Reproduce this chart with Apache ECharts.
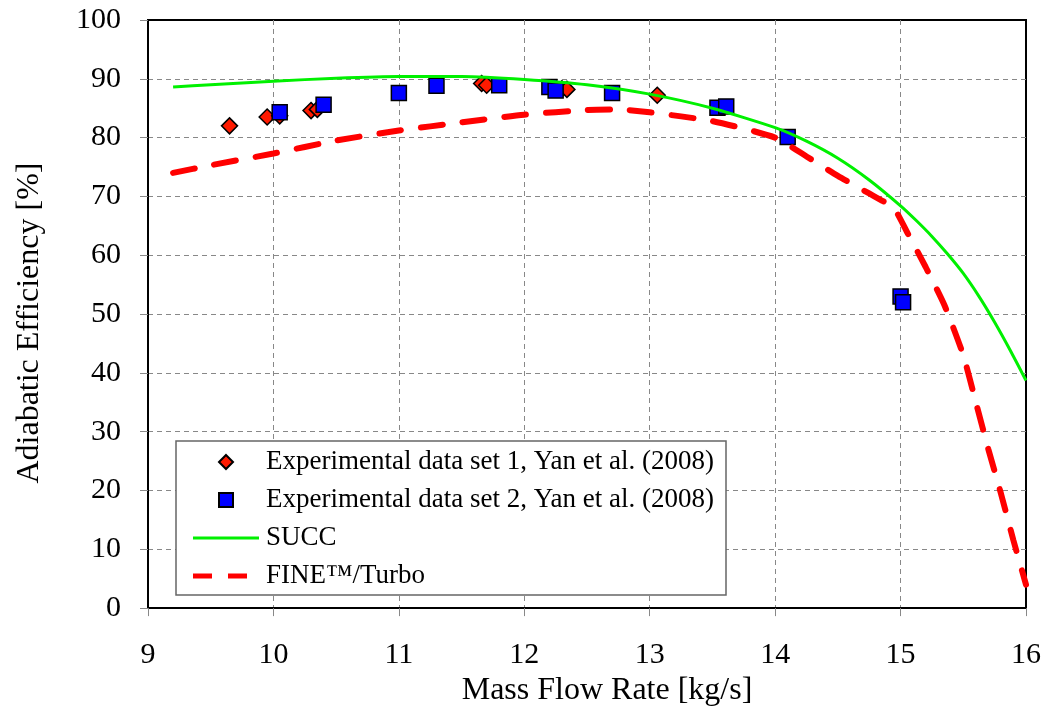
<!DOCTYPE html>
<html>
<head>
<meta charset="utf-8">
<script src="https://cdn.jsdelivr.net/npm/echarts@6/dist/echarts.min.js"></script>
<style>
  html, body { margin: 0; padding: 0; background: #fff; }
  #chart { width: 1047px; height: 712px; }
</style>
</head>
<body>
<div id="chart"></div>
<script>
// 实验数据 1（菱形）
var expSet1 = [
  [9.65, 82.0], [9.95, 83.5], [10.05, 83.7], [10.30, 84.6], [10.35, 84.8],
  [11.66, 89.2], [11.70, 88.9], [12.30, 88.3], [12.34, 88.2], [13.06, 87.2]
];
// 实验数据 2（方块）
var expSet2 = [
  [10.05, 84.3], [10.40, 85.6], [11.00, 87.6], [11.30, 88.8], [11.80, 88.9],
  [12.20, 88.6], [12.25, 88.0], [12.70, 87.6], [13.54, 85.1], [13.61, 85.3],
  [14.10, 80.1], [15.00, 53.0], [15.02, 52.0]
];
// SUCC 曲线
var succ = [
  [9.2, 88.6], [9.5, 89.0], [10, 89.6], [10.5, 90.1], [11, 90.4], [11.5, 90.4],
  [12, 89.9], [12.5, 89.0], [13, 87.4], [13.5, 85.0], [14, 81.7], [14.25, 79.4],
  [14.5, 76.5], [14.75, 72.8], [15, 68.4], [15.125, 65.9], [15.25, 63.2],
  [15.375, 60.2], [15.5, 56.9], [15.625, 53.0], [15.75, 48.6], [15.875, 43.8],
  [16, 38.7]
];
// FINE/Turbo 曲线
var fine = [
  [9.2, 74.0], [9.5, 75.3], [10, 77.3], [10.5, 79.5], [11, 81.2], [11.5, 82.6],
  [12, 83.9], [12.5, 84.7], [12.75, 84.8], [13, 84.3], [13.5, 82.8], [14, 80.0],
  [14.25, 76.8], [14.5, 73.5], [14.75, 70.5], [14.9, 68.7], [14.96, 67.6],
  [15.05, 64.0], [15.2, 58.0], [15.35, 51.5], [15.5, 43.0], [15.6, 35.0],
  [15.7, 27.0], [15.8, 19.5], [15.9, 11.5], [16, 4.0]
];
var seriesNames = [
  'Experimental data set 1, Yan et al. (2008)',
  'Experimental data set 2, Yan et al. (2008)',
  'SUCC',
  'FINE\u2122/Turbo'
];

var font = '"Liberation Serif", "Times New Roman", serif';
var legendText = { fontFamily: font, fontSize: 27, color: '#000', lineHeight: 30 };
var chart = echarts.init(document.getElementById('chart'));

var option = {
  animation: false,
  backgroundColor: '#fff',
  textStyle: { fontFamily: font, color: '#000' },
  grid: {
    left: 148, right: 21, top: 20, bottom: 101,
    show: true, borderColor: '#000', borderWidth: 2
  },
  // 图例外框
  graphic: [{
    type: 'rect', z: 50,
    shape: { x: 176, y: 441, width: 550, height: 154 },
    style: { fill: '#fff', stroke: '#666', lineWidth: 1.5 }
  }],
  legend: [
    {
      orient: 'vertical', left: 218, top: 447, padding: 0, z: 60,
      itemWidth: 14, itemHeight: 14, itemGap: 8,
      textStyle: Object.assign({ padding: [0, 0, 0, 28] }, legendText),
      data: [
        { name: seriesNames[0], icon: 'diamond' },
        { name: seriesNames[1], icon: 'rect' }
      ]
    },
    {
      orient: 'vertical', left: 193, top: 523, padding: 0, z: 60,
      itemWidth: 66, itemHeight: 14, symbolKeepAspect: true,
      textStyle: Object.assign({ padding: [0, 0, 0, 2] }, legendText),
      data: [{ name: seriesNames[2], icon: 'path://M0,0H66V3H0Z' }]
    },
    {
      orient: 'vertical', left: 193, top: 561, padding: 0, z: 60,
      itemWidth: 54, itemHeight: 14, symbolKeepAspect: true,
      textStyle: Object.assign({ padding: [0, 0, 0, 14] }, legendText),
      data: [{ name: seriesNames[3], icon: 'path://M0,0H19V5H0Z M35,0H54V5H35Z' }]
    }
  ],
  xAxis: {
    type: 'value', min: 9, max: 16, interval: 1,
    name: 'Mass Flow Rate [kg/s]', nameLocation: 'middle', nameGap: 66,
    nameTextStyle: { fontFamily: font, fontSize: 32, color: '#000', padding: [0, 0, 0, 40] },
    axisLine: { show: true, lineStyle: { color: '#000', width: 2 } },
    axisTick: { show: true, inside: false, length: 8, lineStyle: { color: '#888' } },
    axisLabel: { fontFamily: font, fontSize: 30, color: '#000', margin: 32 },
    splitLine: { show: true, showMinLine: false, showMaxLine: false,
      lineStyle: { color: '#888', type: [5, 4], width: 1 } }
  },
  yAxis: {
    type: 'value', min: 0, max: 100, interval: 10,
    name: 'Adiabatic Efficiency [%]', nameLocation: 'middle', nameGap: 102,
    nameTextStyle: { fontFamily: font, fontSize: 32, color: '#000', padding: [0, 18, 0, 0] },
    axisLine: { show: true, lineStyle: { color: '#000', width: 2 } },
    axisTick: { show: true, inside: false, length: 8, lineStyle: { color: '#888' } },
    axisLabel: { fontFamily: font, fontSize: 30, color: '#000', margin: 27 },
    splitLine: { show: true, showMinLine: false, showMaxLine: false,
      lineStyle: { color: '#888', type: [5, 4], width: 1 } }
  },
  series: [
    {
      name: seriesNames[0], type: 'scatter', symbol: 'diamond', symbolSize: 16,
      itemStyle: { color: '#ff1a00', borderColor: '#000', borderWidth: 1.5, opacity: 1 },
      data: expSet1, z: 2
    },
    {
      name: seriesNames[1], type: 'scatter', symbol: 'rect', symbolSize: 15,
      itemStyle: { color: '#0000ff', borderColor: '#000', borderWidth: 1.5, opacity: 1 },
      data: expSet2, z: 3
    },
    {
      name: seriesNames[2], type: 'line', symbol: 'none', smooth: 0.2,
      lineStyle: { color: '#00f000', width: 3 },
      itemStyle: { color: '#00f000' },
      data: succ, z: 4
    },
    {
      name: seriesNames[3], type: 'line', symbol: 'none', smooth: 0.2,
      lineStyle: { color: '#ff0000', width: 6, type: [22, 20], cap: 'round' },
      itemStyle: { color: '#ff0000' },
      data: fine, z: 5
    }
  ]
};
chart.setOption(option);
</script>
</body>
</html>
